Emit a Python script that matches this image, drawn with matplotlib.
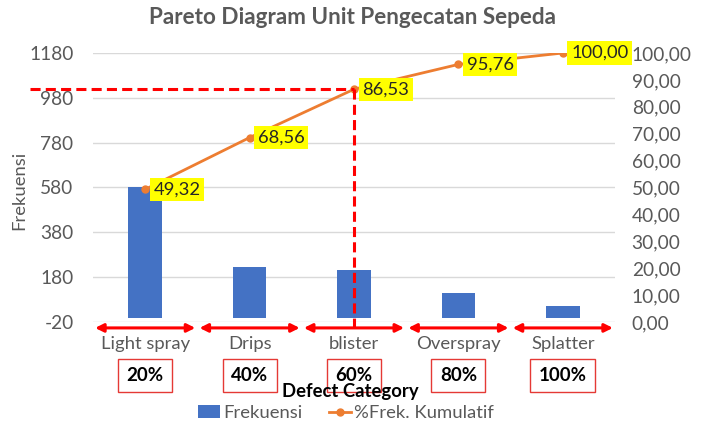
import numpy as np
import matplotlib.pyplot as plt
import matplotlib.transforms as mtransforms
from matplotlib.lines import Line2D
from matplotlib.patches import Patch

# data
categories = ['Light spray', 'Drips', 'blister', 'Overspray', 'Splatter']
frekuensi = [580, 226, 211, 109, 50]
kumulatif = [49.32, 68.56, 86.53, 95.76, 100.00]
pct_labels = ['20%', '40%', '60%', '80%', '100%']

plt.rcParams['font.family'] = ['Lato', 'DejaVu Sans']
plt.rcParams['axes.unicode_minus'] = False
gray = '#595959'
bar_col = '#4472C4'
line_col = '#ED7D31'


def koma(v):
    return f'{v:.2f}'.replace('.', ',')


fig = plt.figure(figsize=(7.1, 4.29), dpi=100)
ax = fig.add_axes([93 / 710, 1 - 322 / 429, 522 / 710, 269 / 429])
ax2 = ax.twinx()

x = np.arange(len(categories))
ax.bar(x, frekuensi, 0.32, color=bar_col, zorder=2)
ax.set_xlim(-0.5, len(categories) - 0.5)
ax.set_ylim(-20, 1180)
ax.set_yticks(np.arange(-20, 1181, 200))
ax.grid(axis='y', color='#D9D9D9', lw=1)
ax.set_axisbelow(True)
ax.set_xticks(x, categories)
ax.tick_params(axis='y', length=0, labelsize=13.8, colors=gray, pad=14)
ax.tick_params(axis='x', length=0, labelsize=13.3, colors=gray, pad=10)
ax.set_ylabel('Frekuensi', fontsize=13.3, color=gray)
ax.yaxis.set_label_coords((27 - 93) / 522, (322 - 190) / 269)

# cumulative percentage line
ax2.plot(x, kumulatif, color=line_col, lw=2, marker='o', ms=5, zorder=3)
ax2.set_ylim(0, 100)
ax2.set_yticks(np.arange(0, 101, 10))
ax2.set_yticklabels([koma(v) for v in np.arange(0, 101, 10)])
ax2.tick_params(axis='y', length=0, labelsize=13.8, colors=gray, pad=12)
for a in (ax, ax2):
    for s in a.spines.values():
        s.set_visible(False)

for xi, v in zip(x, kumulatif):
    ax2.annotate(koma(v), (xi, v), xytext=(6, 0), textcoords='offset points',
                 ha='left', va='center', fontsize=13.2, color='#262626',
                 bbox=dict(boxstyle='square,pad=0.2', fc='#FFFF00', ec='none'))

# 80% cut-off lines
idx = 2
ax2.plot([-1.1, x[idx]], [kumulatif[idx], kumulatif[idx]], color='red', lw=2.2,
         dashes=(3.3, 1.7), clip_on=False, zorder=4)
ax2.plot([x[idx], x[idx]], [kumulatif[idx], -2.2], color='red', lw=2.2,
         dashes=(3.3, 1.7), clip_on=False, zorder=4)

# arrows and percentage boxes under the categories
trans = mtransforms.blended_transform_factory(ax.transData, ax.transAxes)
for xi, lbl in zip(x, pct_labels):
    ax.annotate('', xy=(xi - 0.48, -0.022), xytext=(xi + 0.48, -0.022),
                xycoords=trans, textcoords=trans,
                arrowprops=dict(arrowstyle='<|-|>', color='red', lw=2.2,
                                shrinkA=0, shrinkB=0, mutation_scale=12))
    ax.text(xi, -0.199, lbl, transform=trans, ha='center', va='center',
            fontsize=13.5, fontweight='bold', color='black',
            bbox=dict(boxstyle='square,pad=0.45', fc='white', ec='#E53935', lw=1))

ax.text((350 - 93) / 522, (322 - 392) / 269, 'Defect Category', transform=ax.transAxes,
        ha='center', va='center', fontsize=13.3, fontweight='bold', color='black')

fig.text(0.496, 1 - 18 / 429, 'Pareto Diagram Unit Pengecatan Sepeda', ha='center',
         va='center', fontsize=16.2, fontweight='bold', color=gray)

handles = [Patch(fc=bar_col),
           Line2D([], [], color=line_col, lw=2, marker='o', ms=5)]
fig.legend(handles, ['Frekuensi', '%Frek. Kumulatif'], loc='center',
           bbox_to_anchor=(346 / 710, 1 - 413 / 429), ncol=2, frameon=False,
           fontsize=13.3, labelcolor=gray, handlelength=1.2, handletextpad=0.2,
           columnspacing=1.4)

fig.savefig('out.png', dpi=100)
